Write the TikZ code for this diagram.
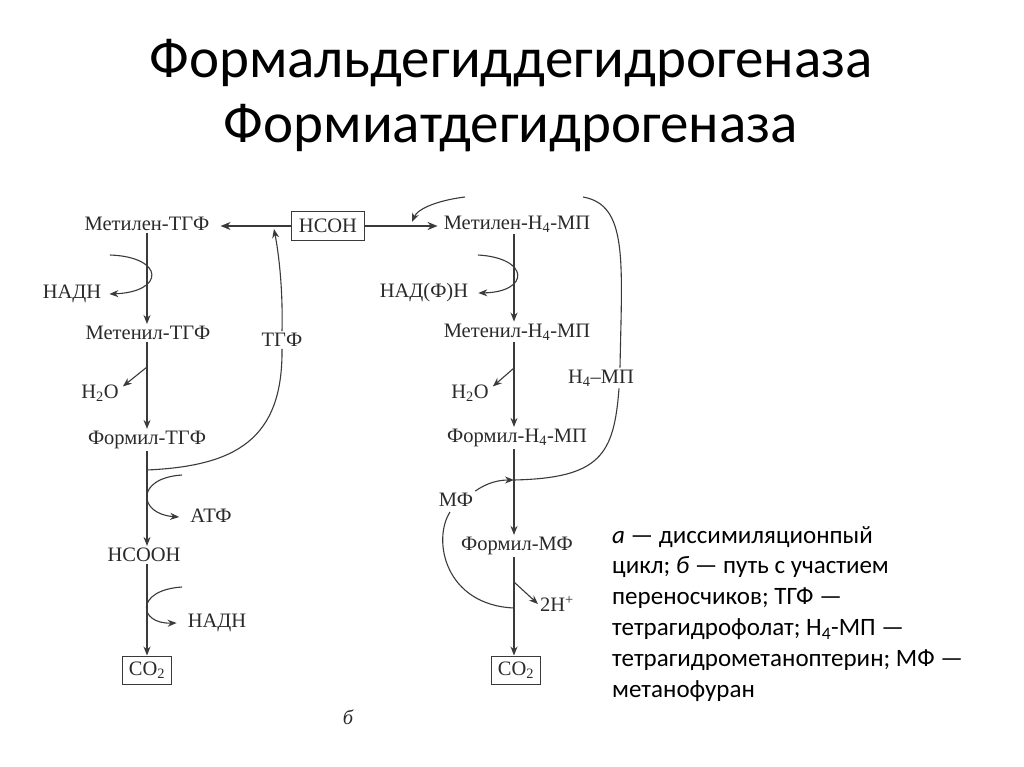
\documentclass[tikz,border=0pt]{standalone}
\usepackage{fontspec}
\setmainfont{Carlito}
\newfontfamily\dfont{Liberation Serif}
\usetikzlibrary{arrows.meta}
\definecolor{txt}{HTML}{2A2A2A}
\definecolor{ln}{HTML}{3A3A3A}
\begin{document}
\begin{tikzpicture}[x=1pt,y=-1pt,
  lbl/.style={font=\dfont\fontsize{20.5}{24}\selectfont, text=txt, inner sep=2pt},
  boxed/.style={lbl, draw=ln, line width=1pt, inner sep=2pt, minimum height=28pt},
  flow/.style={draw=ln, line width=1.1pt, -{Stealth[length=9pt,width=7pt]}},
  thin/.style={draw=ln, line width=1.1pt},
  feed/.style={draw=ln, line width=2pt, -{Stealth[length=10pt,width=8pt]}},
  ttl/.style={font=\fontsize{57}{64}\selectfont, inner sep=0pt, anchor=base},
  capt/.style={font=\fontsize{25}{30.8}\selectfont, inner sep=0pt, align=left, anchor=base west}]
\useasboundingbox (0,0) rectangle (1024,767);
\fill[white] (0,0) rectangle (1024,767);
% title
\node[ttl] (t1) at (511,78) {Формальдегиддегидрогеназа};
\node[ttl] (t2) at (511,143) {Формиатдегидрогеназа};
% left column
\node[lbl] (mL1) at (147,224) {Метилен-ТГФ};
\node[lbl] (nadhL1) at (72,294) {НАДН};
\node[lbl] (mL2) at (148,333) {Метенил-ТГФ};
\node[lbl] (h2oL) at (100,393) {H\textsubscript{2}O};
\node[lbl] (mL3) at (147,440) {Формил-ТГФ};
\node[lbl] (atf) at (211,516) {АТФ};
\node[lbl] (hcooh) at (144,555) {HCOOH};
\node[lbl] (nadhL2) at (217,623) {НАДН};
\node[boxed, minimum width=49pt] (co2L) at (147,670) {CO\textsubscript{2}};
\node[lbl] (tgf) at (282,340) {ТГФ};
\node[boxed, minimum width=73pt] (hcoh) at (328,226) {HCOH};
% right column
\node[lbl] (mR1) at (517,224) {Метилен-H\textsubscript{4}-МП};
\node[lbl] (nadph) at (424,293) {НАД(Ф)Н};
\node[lbl] (mR2) at (517,332) {Метенил-H\textsubscript{4}-МП};
\node[lbl] (h2oR) at (470,393) {H\textsubscript{2}O};
\node[lbl] (mR3) at (517,438) {Формил-H\textsubscript{4}-МП};
\node[lbl] (h4mp) at (601,378) {H\textsubscript{4}–МП};
\node[lbl] (mf) at (456,500) {МФ};
\node[lbl] (mR4) at (517,546) {Формил-МФ};
\node[lbl] (h2p) at (557,604) {2H\textsuperscript{+}};
\node[boxed, minimum width=49pt] (co2R) at (516,670) {CO\textsubscript{2}};
\node[lbl, font=\dfont\itshape\fontsize{20.5}{24}\selectfont] (bb) at (348,717) {б};
% caption
\node[capt] (cap) at (612,697) {\textit{а} — диссимиляционпый\\
цикл; \textit{б} — путь с участием\\
переносчиков; ТГФ —\\
тетрагидрофолат; Н\textsubscript{4}-МП —\\
тетрагидрометаноптерин; МФ —\\
метанофуран};
% coordinates
\coordinate (xL) at (147,0);
\coordinate (xR) at (514,0);
\coordinate (jL) at (147,470);
\coordinate (tipL) at (274,229);
\coordinate (s1) at (110,255);
\coordinate (e1) at (147,367);
\coordinate (s2) at (182,475);
\coordinate (s3) at (182,587);
\coordinate (jR) at (514,480);
\coordinate (s4) at (478,255);
\coordinate (e2) at (514,368);
\coordinate (e3) at (514,582);
\coordinate (jR2) at (514,608);
\coordinate (a1) at (583,197);
\coordinate (a2) at (465,197);
\coordinate (tipR) at (412,222);
% HCOH feeds
\draw[feed, shorten >=9pt] (hcoh.west) -- (hcoh.west -| mL1.east);
\draw[feed, shorten >=4pt] (hcoh.east) -- (hcoh.east -| mR1.west);
% left chain
\draw[flow] (mL1.south -| xL) -- (mL2.north -| xL);
\draw[flow] (mL2.south -| xL) -- (mL3.north -| xL);
\draw[flow] (mL3.south -| xL) -- (hcooh.north -| xL);
\draw[flow] (hcooh.south -| xL) -- (co2L.north -| xL);
\draw[flow] (s1) .. controls (165,257) and (165,292) .. ([xshift=6pt]nadhL1.east);
\draw[flow] (e1) -- ([xshift=2pt,yshift=-4pt]h2oL.north east);
\draw[flow] (s2) .. controls (135,478) and (138,514) .. ([xshift=-9pt,yshift=-1pt]atf.west);
\draw[flow] (s3) .. controls (135,590) and (138,624) .. ([xshift=-9pt,yshift=0pt]nadhL2.west);
\draw[thin] (jL) .. controls (235,466) and (283,440) .. (tgf.south);
\draw[flow] (tgf.north) .. controls (283,290) and (279,255) .. (tipL);
% right chain
\draw[flow] (mR1.south -| xR) -- (mR2.north -| xR);
\draw[flow] (mR2.south -| xR) -- (mR3.north -| xR);
\draw[flow] (mR3.south -| xR) -- (mR4.north -| xR);
\draw[flow] (mR4.south -| xR) -- (co2R.north -| xR);
\draw[flow] (s4) .. controls (530,258) and (530,292) .. ([xshift=8pt]nadph.east);
\draw[flow] (e2) -- ([xshift=2pt,yshift=-4pt]h2oR.north east);
\draw[flow] (e3) -- (h2p.west);
\draw[flow] (mf.north east) .. controls (488,482) and (500,480) .. (jR);
\draw[thin] (jR2) .. controls (445,605) and (432,540) .. (450,512);
\draw[thin] (jR) .. controls (600,478) and (614,455) .. ([xshift=18pt]h4mp.south);
\draw[thin] ([xshift=19pt]h4mp.north) .. controls (622,260) and (628,205) .. (a1);
\draw[flow] (a2) .. controls (440,200) and (418,208) .. (tipR);
\end{tikzpicture}
\end{document}
